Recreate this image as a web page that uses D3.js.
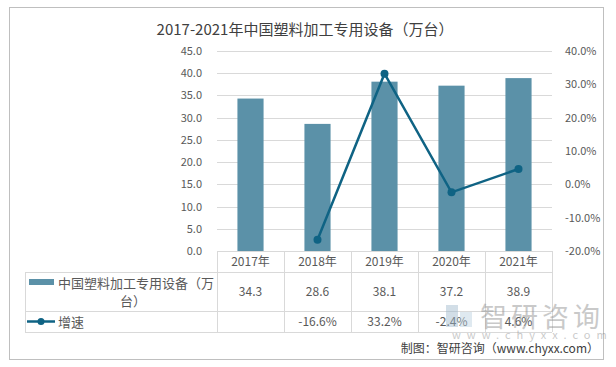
<!DOCTYPE html>
<html>
<head>
<meta charset="utf-8">
<script src="https://cdn.jsdelivr.net/npm/d3@7"></script>
<style>
  body { margin: 0; background: #fff; }
  text { font-family: 'Noto Sans CJK SC', 'Noto Sans', sans-serif; }
</style>
</head>
<body>
<div id="chart"></div>
<script>
const years = ['2017年', '2018年', '2019年', '2020年', '2021年'];
const output = [34.3, 28.6, 38.1, 37.2, 38.9];
const growth = [null, -16.6, 33.2, -2.4, 4.6];
const leftTicks = [0, 5, 10, 15, 20, 25, 30, 35, 40, 45];
const rightTicks = [-20, -10, 0, 10, 20, 30, 40];
const barName = '中国塑料加工专用设备（万台）';
const lineName = '增速';

const w = 616, h = 367;
const barColor = '#5b91a8';
const lineColor = '#0f6384';
const gridColor = '#d9d9d9';
const textColor = '#595959';

const margin = { top: 51, left: 217, right: 552, bottom: 251 };

const svg = d3.select('#chart').append('svg')
  .attr('width', w).attr('height', h);

// outer frame
svg.append('rect')
  .attr('x', 9.5).attr('y', 7.5).attr('width', 594).attr('height', 352)
  .attr('fill', '#fff').attr('stroke', '#bfbfbf');

svg.append('text')
  .attr('x', 305).attr('y', 35)
  .attr('text-anchor', 'middle')
  .style('font-size', '15px').style('fill', '#404040')
  .text('2017-2021年' + barName);

const x = d3.scaleBand().domain(years).range([margin.left, margin.right]);
const y = d3.scaleLinear().domain([0, 45]).range([margin.bottom, margin.top]);
const y2 = d3.scaleLinear().domain([-20, 40]).range([margin.bottom, margin.top]);

// gridlines
svg.append('g').selectAll('line').data(leftTicks.slice(1)).join('line')
  .attr('x1', margin.left).attr('x2', margin.right)
  .attr('y1', d => Math.round(y(d)) + 0.5).attr('y2', d => Math.round(y(d)) + 0.5)
  .attr('stroke', gridColor);

// left axis labels
const yAxis = d3.axisLeft(y).tickValues(leftTicks).tickSize(0).tickPadding(15)
  .tickFormat(d3.format('.1f'));
const gy = svg.append('g').attr('transform', 'translate(' + margin.left + ',0)').call(yAxis);
gy.select('.domain').remove();
gy.selectAll('text').style('font-size', '11px').style('fill', textColor)
  .style('font-family', "'Noto Sans CJK SC', sans-serif");

const y2Axis = d3.axisRight(y2).tickValues(rightTicks).tickSize(0).tickPadding(13)
  .tickFormat(d => d.toFixed(1) + '%');
const gy2 = svg.append('g').attr('transform', 'translate(' + margin.right + ',0)').call(y2Axis);
gy2.select('.domain').remove();
gy2.selectAll('text').style('font-size', '11px').style('fill', textColor)
  .style('font-family', "'Noto Sans CJK SC', sans-serif");

// bars
const barW = x.bandwidth() * 0.39;
svg.append('g').selectAll('rect').data(output).join('rect')
  .attr('x', (d, i) => x(years[i]) + (x.bandwidth() - barW) / 2)
  .attr('width', barW)
  .attr('y', d => y(d))
  .attr('height', d => y(0) - y(d))
  .attr('fill', barColor);

// growth line
const pts = growth.map((d, i) => ({ year: years[i], v: d })).filter(d => d.v !== null);
const line = d3.line()
  .x(d => x(d.year) + x.bandwidth() / 2)
  .y(d => y2(d.v));
svg.append('path').datum(pts)
  .attr('d', line).attr('fill', 'none')
  .attr('stroke', lineColor).attr('stroke-width', 2.5);
svg.append('g').selectAll('circle').data(pts).join('circle')
  .attr('cx', d => x(d.year) + x.bandwidth() / 2)
  .attr('cy', d => y2(d.v))
  .attr('r', 4)
  .attr('fill', lineColor);

// data table
const rows = [251, 272, 311, 332];
const tableLeft = 25;
const tg = svg.append('g').attr('stroke', gridColor).attr('shape-rendering', 'crispEdges');
tg.append('line').attr('x1', margin.left).attr('x2', margin.right)
  .attr('y1', rows[0] + 0.5).attr('y2', rows[0] + 0.5);
rows.slice(1).forEach(r => {
  tg.append('line').attr('x1', tableLeft).attr('x2', margin.right)
    .attr('y1', r + 0.5).attr('y2', r + 0.5);
});
tg.append('line').attr('x1', tableLeft + 0.5).attr('x2', tableLeft + 0.5)
  .attr('y1', rows[1]).attr('y2', rows[3]);
years.concat(['end']).forEach((yr, i) => {
  const xx = Math.round(margin.left + i * x.bandwidth()) + 0.5;
  tg.append('line').attr('x1', xx).attr('x2', xx)
    .attr('y1', rows[0]).attr('y2', rows[3]);
});

const cell = (txt, cx, cy, size) => svg.append('text')
  .attr('x', cx).attr('y', cy).attr('dy', '0.35em')
  .attr('text-anchor', 'middle')
  .style('font-size', (size || 12) + 'px').style('fill', textColor)
  .text(txt);

years.forEach((yr, i) => {
  const cx = x(yr) + x.bandwidth() / 2;
  cell(yr, cx, (rows[0] + rows[1]) / 2);
  cell(output[i].toFixed(1), cx, (rows[1] + rows[2]) / 2);
  if (growth[i] !== null) cell(growth[i].toFixed(1) + '%', cx, (rows[2] + rows[3]) / 2);
});

// legend cells
svg.append('rect').attr('x', 29).attr('y', 279).attr('width', 25).attr('height', 6)
  .attr('fill', barColor);
svg.append('text').attr('x', 58).attr('y', 283).attr('dy', '0.35em')
  .style('font-size', '13px').style('fill', textColor)
  .text(barName.slice(0, 12));
cell(barName.slice(12), 133, 301, 13);

svg.append('line').attr('x1', 27).attr('x2', 55).attr('y1', 321.5).attr('y2', 321.5)
  .attr('stroke', lineColor).attr('stroke-width', 2.5);
svg.append('circle').attr('cx', 41).attr('cy', 321.5).attr('r', 3.5).attr('fill', lineColor);
svg.append('text').attr('x', 58).attr('y', 322).attr('dy', '0.35em')
  .style('font-size', '13px').style('fill', textColor)
  .text(lineName);

// watermark
const wm = svg.append('g').style('opacity', 0.45);
wm.append('rect').attr('x', 446).attr('y', 305).attr('width', 12).attr('height', 22).attr('fill', '#9db8cc');
wm.append('rect').attr('x', 460).attr('y', 312).attr('width', 12).attr('height', 15).attr('fill', '#b9cfde');
wm.append('text').attr('x', 480).attr('y', 327)
  .style('font-size', '27px').style('fill', '#8a8a8a').style('letter-spacing', '4px')
  .text('智研咨询');
wm.append('text').attr('x', 452).attr('y', 339)
  .style('font-size', '11px').style('fill', '#8a8a8a').style('letter-spacing', '6px')
  .text('www.chyxx.com');

// source
svg.append('text').attr('x', 599).attr('y', 349).attr('dy', '0.35em')
  .attr('text-anchor', 'end')
  .style('font-size', '12px').style('fill', '#404040')
  .text('制图：智研咨询（www.chyxx.com）');
</script>
</body>
</html>
